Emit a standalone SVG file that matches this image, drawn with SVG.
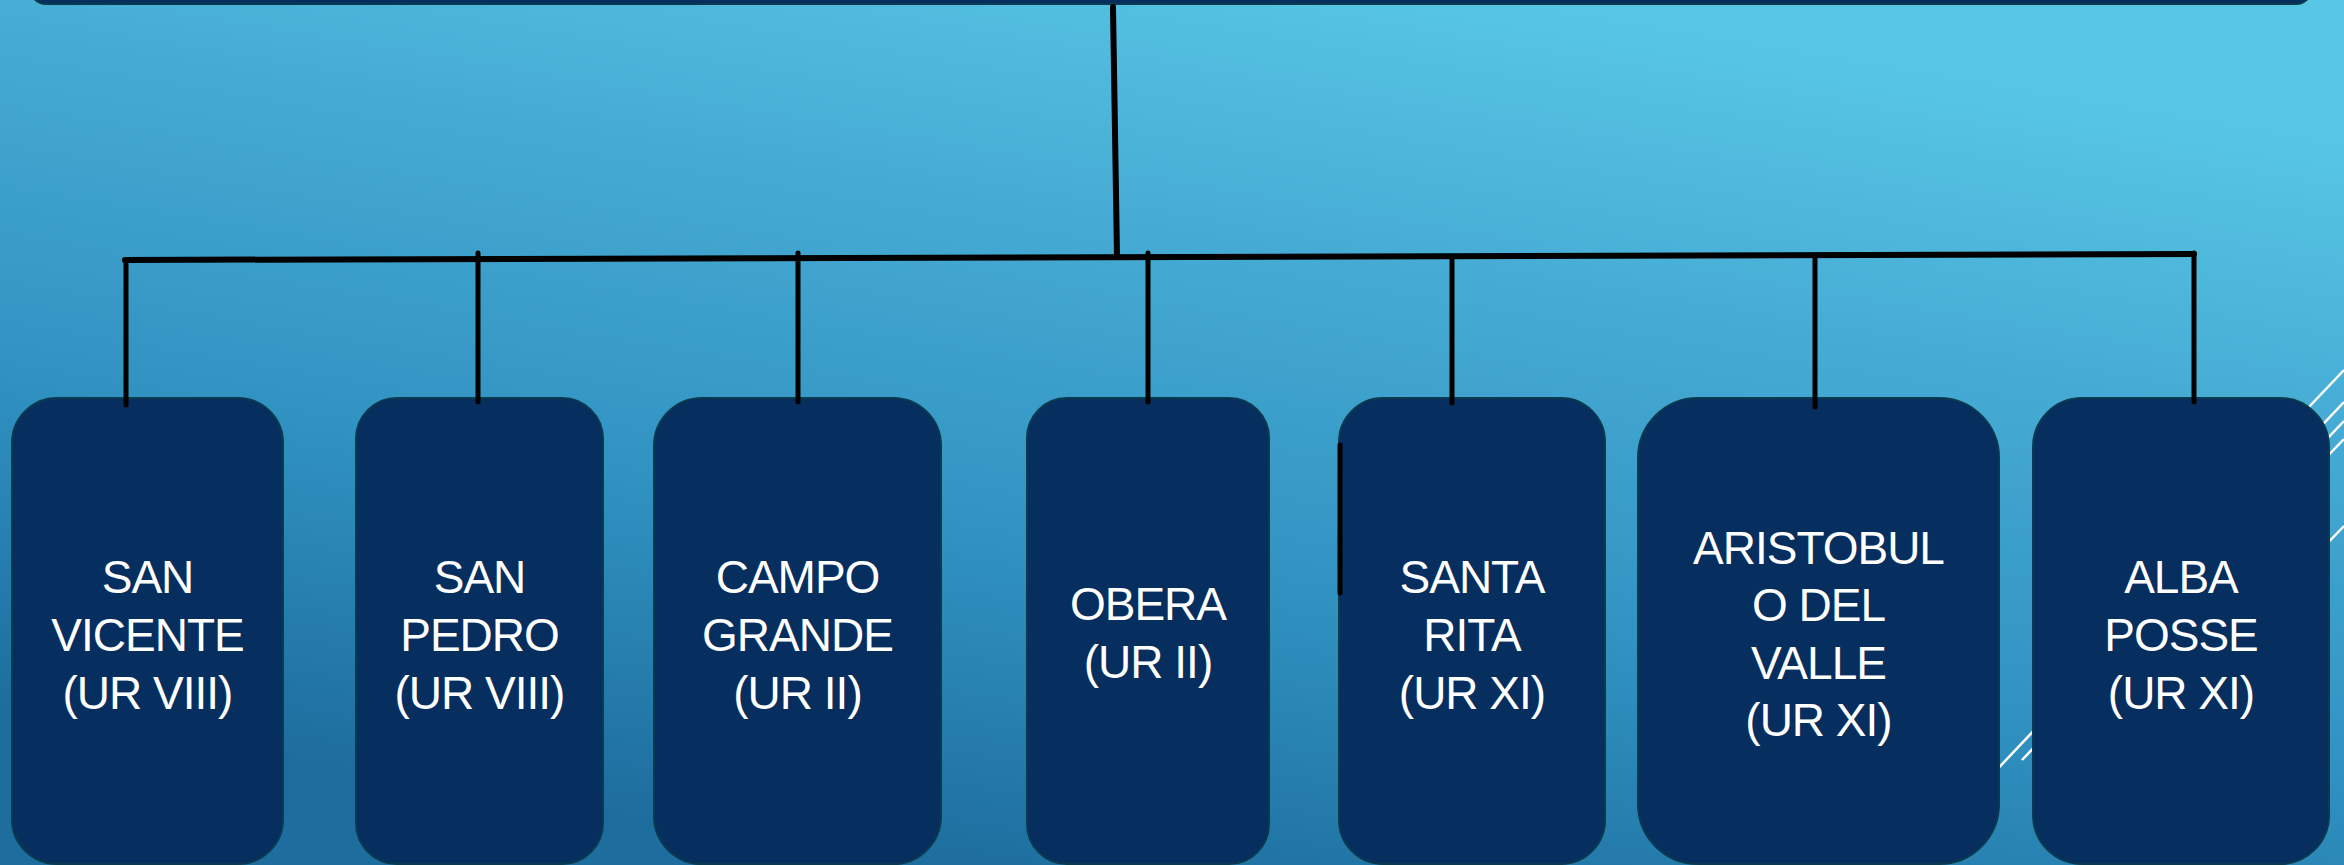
<svg xmlns="http://www.w3.org/2000/svg" width="2344" height="865" viewBox="0 0 2344 865">
  <defs>
    <linearGradient id="bg" gradientUnits="userSpaceOnUse" x1="1120" y1="900" x2="1280" y2="-40">
      <stop offset="0" stop-color="#1D6D9E"/>
      <stop offset="0.35" stop-color="#3092C1"/>
      <stop offset="0.7" stop-color="#46ABD4"/>
      <stop offset="1" stop-color="#57C6E4"/>
    </linearGradient>
  </defs>
  <style>
    .box { fill: #062E5F; stroke: #0A3A50; stroke-width: 2; }
    .lbl { fill: #FFFFFF; font-family: "Liberation Sans", Arial, sans-serif; font-size: 46px; letter-spacing: -1px; text-anchor: middle; }
    .conn { stroke: #000000; stroke-width: 6; stroke-linecap: round; fill: none; }
    .drop { stroke: #000000; stroke-width: 5; stroke-linecap: round; fill: none; }
    .deco { stroke: #FFFFFF; stroke-width: 2.5; fill: none; }
  </style>

  <rect x="0" y="0" width="2344" height="865" fill="url(#bg)"/>

  <g id="decor">
    <line class="deco" x1="1990" y1="777" x2="2344" y2="402"/>
    <line class="deco" x1="2022" y1="760" x2="2344" y2="421"/>
    <line class="deco" x1="2290" y1="427" x2="2344" y2="370"/>
    <line class="deco" x1="2318" y1="466" x2="2344" y2="439"/>
    <line class="deco" x1="2318" y1="553" x2="2344" y2="526"/>
  </g>

  <g id="node-top">
    <rect class="box" x="30" y="-40" width="2282" height="44" rx="16"/>
  </g>

  <g id="node-san-vicente">
    <rect class="box" x="12" y="398" width="271" height="466" rx="45"/>
    <text class="lbl"><tspan x="147.5" y="593">SAN</tspan><tspan x="147.5" y="651">VICENTE</tspan><tspan x="147.5" y="709">(UR VIII)</tspan></text>
  </g>
  <g id="node-san-pedro">
    <rect class="box" x="356" y="398" width="247" height="466" rx="41"/>
    <text class="lbl"><tspan x="479.5" y="593">SAN</tspan><tspan x="479.5" y="651">PEDRO</tspan><tspan x="479.5" y="709">(UR VIII)</tspan></text>
  </g>
  <g id="node-campo-grande">
    <rect class="box" x="654" y="398" width="287" height="466" rx="48"/>
    <text class="lbl"><tspan x="797.5" y="593">CAMPO</tspan><tspan x="797.5" y="651">GRANDE</tspan><tspan x="797.5" y="709">(UR II)</tspan></text>
  </g>
  <g id="node-obera">
    <rect class="box" x="1027" y="398" width="242" height="466" rx="40"/>
    <text class="lbl"><tspan x="1148" y="620">OBERA</tspan><tspan x="1148" y="678">(UR II)</tspan></text>
  </g>
  <g id="node-santa-rita">
    <rect class="box" x="1339" y="398" width="266" height="466" rx="44"/>
    <text class="lbl"><tspan x="1472" y="593">SANTA</tspan><tspan x="1472" y="651">RITA</tspan><tspan x="1472" y="709">(UR XI)</tspan></text>
  </g>
  <g id="node-aristobulo">
    <rect class="box" x="1638" y="398" width="361" height="466" rx="60"/>
    <text class="lbl"><tspan x="1818.5" y="564">ARISTOBUL</tspan><tspan x="1818.5" y="621">O DEL</tspan><tspan x="1818.5" y="679">VALLE</tspan><tspan x="1818.5" y="736">(UR XI)</tspan></text>
  </g>
  <g id="node-alba-posse">
    <rect class="box" x="2033" y="398" width="296" height="466" rx="49"/>
    <text class="lbl"><tspan x="2181" y="593">ALBA</tspan><tspan x="2181" y="651">POSSE</tspan><tspan x="2181" y="709">(UR XI)</tspan></text>
  </g>

  <g id="connectors">
    <line class="conn" x1="1113" y1="7" x2="1117" y2="256"/>
    <line class="conn" x1="125" y1="260" x2="2194" y2="254"/>
    <line class="drop" x1="126" y1="260" x2="126" y2="405"/>
    <line class="drop" x1="478" y1="253" x2="478" y2="402"/>
    <line class="drop" x1="798" y1="253" x2="798" y2="402"/>
    <line class="drop" x1="1148" y1="253" x2="1148" y2="402"/>
    <line class="drop" x1="1452" y1="258" x2="1452" y2="403"/>
    <line class="drop" x1="1815" y1="258" x2="1815" y2="407"/>
    <line class="drop" x1="2194" y1="253" x2="2194" y2="402"/>
    <line class="drop" x1="1340" y1="445" x2="1340" y2="593"/>
  </g>
</svg>
